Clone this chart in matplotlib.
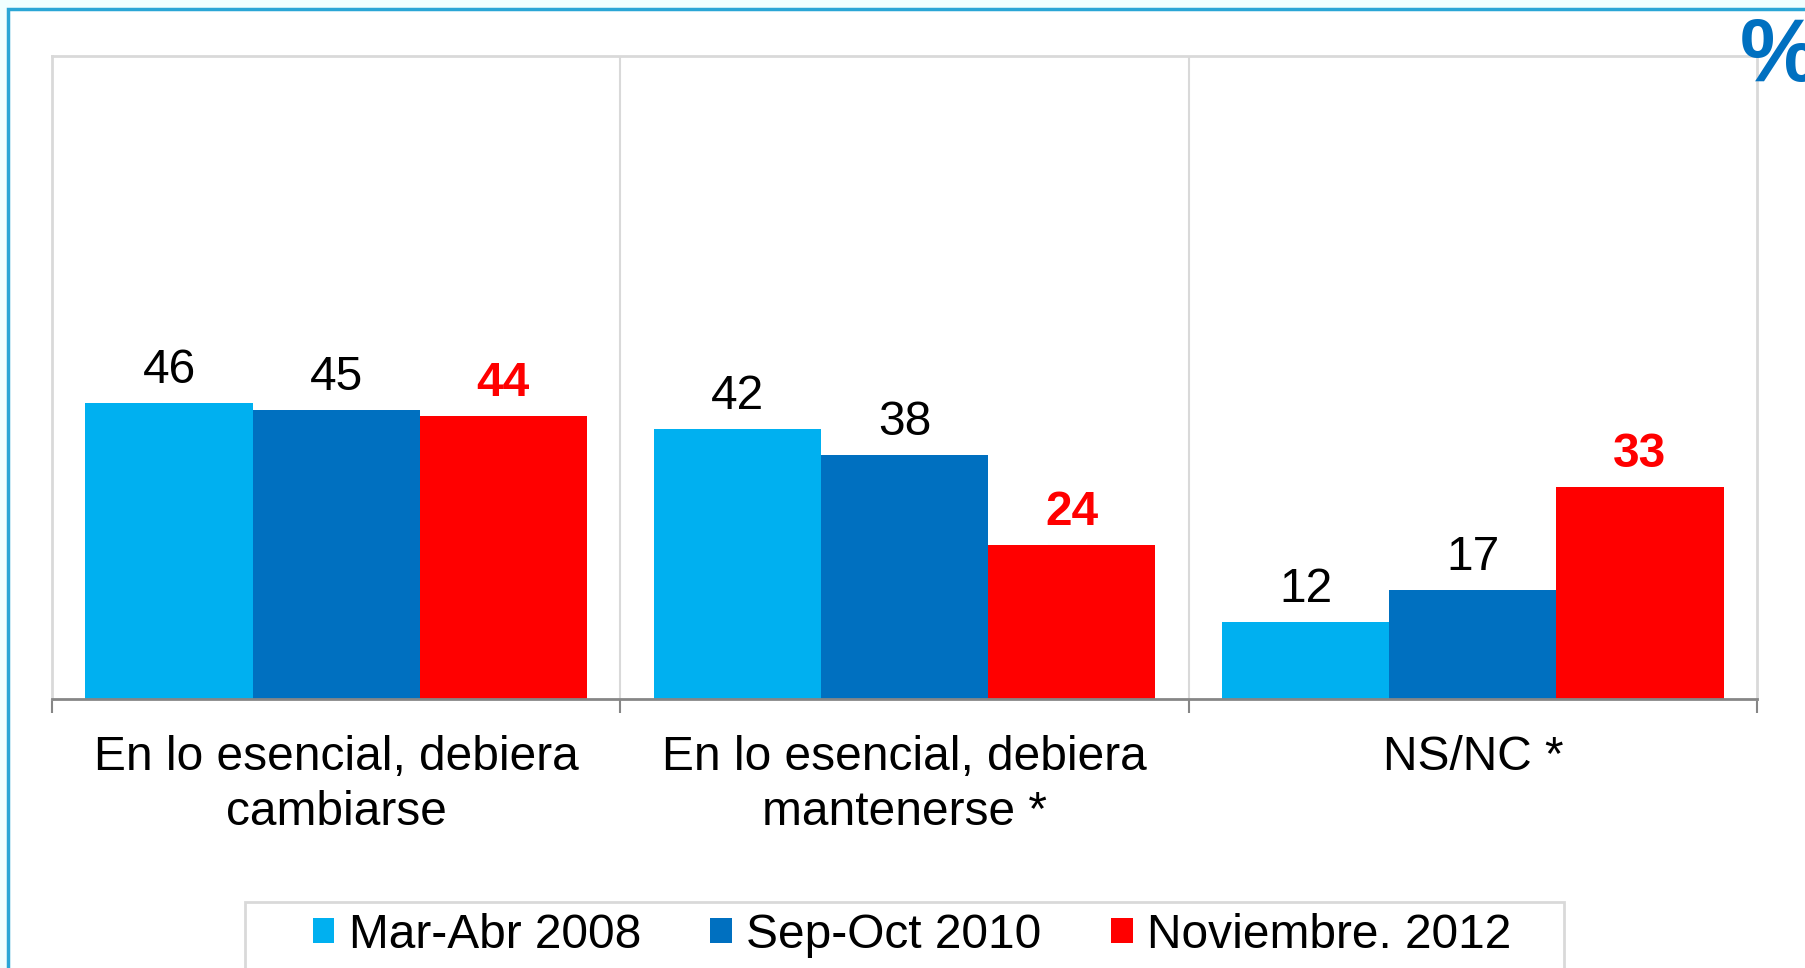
import matplotlib
matplotlib.use("Agg")
import matplotlib.pyplot as plt
from matplotlib.patches import Rectangle
import numpy as np

plt.rcParams['font.family'] = ['Liberation Sans', 'DejaVu Sans']

categories = ["En lo esencial, debiera\ncambiarse",
              "En lo esencial, debiera\nmantenerse *",
              "NS/NC *"]
series_names = ["Mar-Abr 2008", "Sep-Oct 2010", "Noviembre. 2012"]
mar_abr_2008 = [46, 42, 12]
sep_oct_2010 = [45, 38, 17]
nov_2012 = [44, 24, 33]

colors = ["#00B0F0", "#0070C0", "#FF0000"]
W, H = 1806, 968
FS = 34.5

fig = plt.figure(figsize=(W / 100, H / 100), dpi=100)
fig.patch.set_facecolor("#F0FFFF")

# white slide panel with blue outline, running off the right and bottom edges
fig.patches.append(Rectangle((8 / W, -0.05), 1.1, 1 - 9 / H + 0.05,
                             transform=fig.transFigure, facecolor="white",
                             edgecolor="#2AA6D6", linewidth=2.5, zorder=-2))

ax = fig.add_axes([52 / W, 269 / H, 1705 / W, 643 / H])
ax.set_zorder(2)
ax.set_facecolor("white")

x = np.arange(len(categories))
bw = 1 / 3.4
all_series = [mar_abr_2008, sep_oct_2010, nov_2012]
for i, (vals, col, name) in enumerate(zip(all_series, colors, series_names)):
    bars = ax.bar(x + (i - 1) * bw, vals, width=bw, color=col, label=name, zorder=2)
    for b, v in zip(bars, vals):
        red = (i == 2)
        ax.annotate(str(v), (b.get_x() + b.get_width() / 2, v),
                    xytext=(0, 7), textcoords="offset points",
                    ha="center", va="bottom", fontsize=FS,
                    color="#FF0000" if red else "black",
                    fontweight="bold" if red else "normal")

ax.set_xlim(-0.5, 2.5)
ax.set_ylim(0, 100)
ax.set_yticks([])

# boundaries between categories: gridlines plus outward tick marks
bounds = np.arange(-0.5, 3, 1.0)
ax.set_xticks(bounds)
ax.set_xticklabels([])
ax.tick_params(axis="x", which="major", direction="out", length=10,
               width=1.5, color="#868686")
for bx in bounds[1:-1]:
    ax.axvline(bx, color="#D9D9D9", linewidth=1.5, zorder=1)

ax.set_xticks(x, minor=True)
ax.set_xticklabels(categories, minor=True, fontsize=FS, linespacing=1.27)
ax.tick_params(axis="x", which="minor", length=0, pad=26)

for s in ["top", "left", "right"]:
    ax.spines[s].set_color("#D9D9D9")
    ax.spines[s].set_linewidth(2)
ax.spines["bottom"].set_color("#868686")
ax.spines["bottom"].set_linewidth(2)
ax.spines["bottom"].set_zorder(3)

fig.text(1740 / W, 1 - 16 / H, "%", fontsize=64, fontweight="bold",
         color="#0070C0", ha="left", va="top")

# legend box and entries
fig.patches.append(Rectangle((245 / W, -0.05), 1319 / W, 0.05 + 66 / H,
                             transform=fig.transFigure, facecolor="white",
                             edgecolor="#D9D9D9", linewidth=2, zorder=-1))
fig.legend(loc="center", bbox_to_anchor=(912 / W, 33 / H), ncol=3,
           frameon=False, fontsize=FS, handlelength=0.45, handleheight=0.45,
           handletextpad=0.3, columnspacing=1.45, borderpad=0)

fig.savefig("out.png", dpi=100, facecolor=fig.get_facecolor())
